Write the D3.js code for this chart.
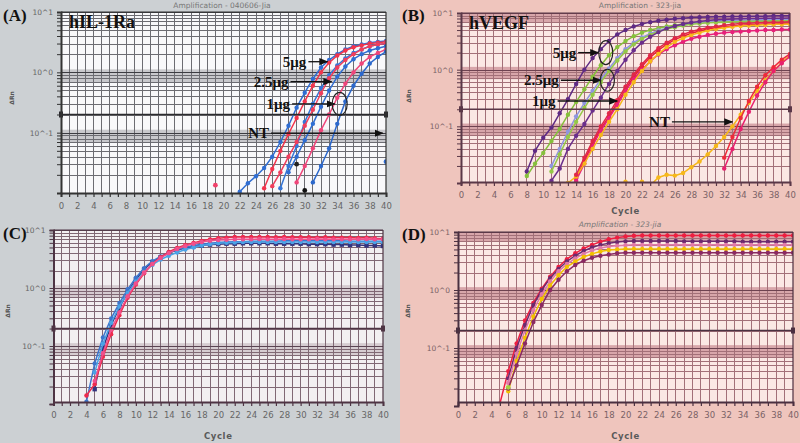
<!DOCTYPE html>
<html><head><meta charset="utf-8">
<script src="https://cdn.jsdelivr.net/npm/d3@7"></script>
<style>body{margin:0;background:#fff}svg{display:block}</style>
</head><body><svg id="c" width="800" height="443"></svg>
<script>
// ---------- shared axis data ----------
const cycleTicks = d3.range(0, 41, 1);
const cycleLabels = d3.range(0, 41, 2);
const decadeValues = [10, 1, 0.1];
const decadeLabels = ["10^1", "10^0", "10^-1"];
const thresholdValue = 0.2;

// ---------- Panel A : hIL-1Ra ----------
const aStarts = [22, 25, 27, 26, 28, 29, 31];
const aBlue1 = [0.0105,0.0145,0.019,0.026,0.04,0.07,0.13,0.26,0.46,0.78,1.2,1.6,2.0,2.4,2.7,2.9,3.1,3.2,3.3];
const aRed1  = [0.012,0.025,0.05,0.095,0.175,0.33,0.6,1.0,1.45,1.9,2.3,2.6,2.8,3.0,3.1,3.2];
const aBlue2 = [0.012,0.028,0.06,0.15,0.3,0.55,0.9,1.3,1.7,2.1,2.4,2.7,2.9,3.0];
const aRed2  = [0.013,0.022,0.04,0.07,0.13,0.24,0.45,0.8,1.2,1.6,2.0,2.4,2.7,2.9,3.0];
const aBlue3 = [0.022,0.04,0.075,0.14,0.27,0.5,0.85,1.25,1.65,2.0,2.3,2.5,2.7];
const aPink3 = [0.015,0.028,0.055,0.11,0.2,0.38,0.65,1.0,1.4,1.8,2.1,2.4];
const aBlue4 = [0.015,0.028,0.055,0.14,0.33,0.6,0.95,1.4,1.8,2.2];
const aExtraCycles = [19, 30, 29, 40];
const aExtraValues = [0.0135, 0.011, 0.03, 0.033];

// ---------- Panel B : hVEGF ----------
const bStarts = [8, 8, 11, 11, 11, 14, 14, 13, 14, 20, 32, 32];
const bPurple1 = [0.016,0.037,0.063,0.095,0.17,0.3,0.56,1.0,1.6,2.3,3.2,4.2,5.0,5.8,6.4,6.9,7.3,7.6,7.9,8.1,8.3,8.4,8.5,8.6,8.6,8.7,8.7,8.8,8.8,8.8,8.9,8.9,8.9];
const bGreen1  = [0.0133,0.022,0.034,0.055,0.09,0.16,0.27,0.45,0.75,1.2,1.8,2.5,3.2,3.9,4.5,5.0,5.4,5.8,6.1,6.4,6.6,6.8,6.9,7.0,7.1,7.1,7.2,7.2,7.2,7.3,7.3,7.3,7.3];
const bLavender = [0.02,0.04,0.08,0.15,0.26,0.42,0.68,1.05,1.6,2.3,3.0,3.7,4.3,4.9,5.4,5.8,6.2,6.5,6.8,7.0,7.2,7.3,7.4,7.5,7.5,7.6,7.6,7.7,7.7,7.7];
const bGreen2  = [0.016,0.032,0.065,0.12,0.21,0.36,0.6,0.95,1.45,2.1,2.8,3.5,4.1,4.7,5.2,5.6,6.0,6.3,6.5,6.7,6.8,6.9,7.0,7.0,7.1,7.1,7.1,7.2,7.2,7.2];
const bPurple2 = [0.011,0.018,0.04,0.068,0.11,0.19,0.32,0.56,0.95,1.5,2.2,3.0,3.8,4.6,5.3,5.9,6.4,6.8,7.1,7.4,7.6,7.7,7.8,7.9,8.0,8.0,8.1,8.1,8.1,8.2];
const bRed     = [0.012,0.025,0.05,0.09,0.15,0.26,0.45,0.75,1.15,1.65,2.2,2.8,3.4,3.9,4.4,4.8,5.2,5.5,5.7,5.9,6.1,6.2,6.3,6.4,6.4,6.5,6.5];
const bPink    = [0.011,0.022,0.045,0.085,0.14,0.24,0.42,0.68,1.0,1.4,1.85,2.3,2.7,3.1,3.5,3.8,4.1,4.3,4.5,4.6,4.7,4.8,4.9,5.0,5.0,5.1,5.1];
const bYellow  = [0.010,0.013,0.022,0.04,0.07,0.12,0.2,0.36,0.6,0.95,1.4,1.9,2.5,3.1,3.6,4.1,4.5,4.9,5.2,5.5,5.7,5.9,6.0,6.1,6.2,6.3,6.3,6.4];
const bRed2    = [0.014,0.028,0.055,0.1,0.17,0.29,0.5,0.82,1.25,1.8,2.4,3.0,3.6,4.2,4.7,5.1,5.5,5.8,6.1,6.3,6.5,6.6,6.7,6.8,6.9,6.9,7.0];
const bYellowNT = [0.0105,0.009,0.0105,0.009,0.0125,0.014,0.0135,0.015,0.019,0.024,0.032,0.045,0.065,0.1,0.16,0.26,0.42,0.65,0.95,1.35,1.8];
const bRedNT   = [0.028,0.065,0.14,0.28,0.5,0.8,1.1,1.5,1.9];
const bPinkNT  = [0.018,0.04,0.09,0.18,0.35,0.6,0.95,1.3,1.7];

// ---------- Panel C ----------
const cStarts = [5, 4, 5, 4, 5];
const cNavy  = [0.018,0.09,0.23,0.46,0.85,1.4,2.1,2.8,3.4,4.0,4.5,4.9,5.2,5.4,5.6,5.7,5.8,5.8,5.9,5.9,5.9,5.9,5.8,5.8,5.8,5.8,5.7,5.7,5.7,5.6,5.6,5.5,5.5,5.4,5.4,5.3];
const cBlue  = [0.011,0.05,0.14,0.3,0.55,0.95,1.5,2.2,2.9,3.5,4.1,4.6,5.0,5.4,5.7,5.9,6.1,6.2,6.3,6.3,6.4,6.4,6.4,6.4,6.5,6.5,6.5,6.5,6.5,6.5,6.5,6.5,6.4,6.4,6.4,6.4,6.4];
const cLightBlue = [0.035,0.11,0.25,0.48,0.82,1.3,1.9,2.5,3.1,3.6,4.1,4.6,5.0,5.4,5.7,5.9,6.0,6.1,6.2,6.2,6.2,6.2,6.2,6.2,6.2,6.2,6.2,6.2,6.2,6.2,6.2,6.2,6.2,6.2,6.2,6.2];
const cRed   = [0.014,0.022,0.065,0.16,0.34,0.68,1.15,1.8,2.6,3.4,4.2,4.9,5.5,6.0,6.5,6.9,7.2,7.4,7.6,7.6,7.6,7.6,7.6,7.5,7.6,7.5,7.5,7.5,7.4,7.5,7.4,7.4,7.4,7.3,7.4,7.2,7.1];
const cPink  = [0.025,0.075,0.19,0.38,0.72,1.2,1.85,2.6,3.3,4.0,4.7,5.3,5.8,6.2,6.5,6.7,6.8,6.9,6.9,6.9,7.0,6.9,6.9,7.0,6.9,6.9,6.9,7.0,6.9,6.9,6.9,6.9,6.9,7.0,6.9,6.9];

// ---------- Panel D ----------
const dStarts = [5, 6, 6, 6, 6];
const dRed    = [0.011,0.04,0.12,0.3,0.6,1.05,1.7,2.5,3.4,4.3,5.2,6.0,6.8,7.5,8.0,8.4,8.6,8.7,8.7,8.7,8.7,8.7,8.7,8.7,8.7,8.7,8.7,8.7,8.7,8.7,8.7,8.7,8.7,8.7,8.7,8.7];
const dPurple = [0.03,0.1,0.25,0.55,1.0,1.6,2.3,3.1,3.9,4.7,5.4,6.0,6.4,6.7,6.9,7.0,7.0,7.0,7.0,7.0,7.0,6.9,6.9,6.9,6.9,6.9,6.9,6.9,6.8,6.8,6.8,6.8,6.8,6.8,6.8];
const dPink   = [0.025,0.08,0.2,0.45,0.85,1.4,2.1,2.8,3.5,4.2,4.8,5.3,5.6,5.8,5.9,6.0,6.0,6.0,6.0,6.0,6.0,6.0,6.0,6.0,6.0,6.0,6.0,6.0,6.0,6.0,6.0,6.0,6.0,6.0,6.0];
const dYellow = [0.018,0.06,0.15,0.35,0.7,1.2,1.8,2.5,3.1,3.7,4.2,4.6,4.9,5.0,5.1,5.1,5.1,5.1,5.1,5.1,5.1,5.1,5.1,5.1,5.1,5.1,5.1,5.1,5.1,5.1,5.1,5.1,5.1,5.1,5.1];
const dMaroon = [0.02,0.05,0.12,0.28,0.55,1.0,1.5,2.1,2.7,3.2,3.6,3.9,4.1,4.3,4.4,4.4,4.4,4.4,4.4,4.4,4.4,4.4,4.4,4.4,4.4,4.4,4.4,4.4,4.4,4.4,4.4,4.4,4.4,4.4,4.4];
const dExtraCycles = [6];
const dExtraValues = [0.021];

// ---------- drawing ----------
const svg = d3.select("#c");
const defs = svg.append("defs");

function toPoints(start, vals) { return vals.map((v, i) => ({ c: start + i, v })); }

function panel(cfg) {
  const g = svg.append("g");
  g.append("rect").attr("x", cfg.bx).attr("y", cfg.by).attr("width", cfg.bw).attr("height", cfg.bh).attr("fill", cfg.bg);
  const x = d3.scaleLinear().domain([0, 40]).range([cfg.xl, cfg.xr]);
  const y = d3.scaleLog().domain([0.01, 10]).range([cfg.yb, cfg.yt]);
  const pt = cfg.yt, pb = cfg.axisY;
  const clipId = "clip" + cfg.id;
  defs.append("clipPath").attr("id", clipId).append("rect")
    .attr("x", cfg.xl).attr("y", pt - 1).attr("width", cfg.xr - cfg.xl).attr("height", pb - pt + 1);

  // title
  if (cfg.title) {
    g.append("text").attr("x", cfg.titleX).attr("y", cfg.titleY).attr("text-anchor", "middle")
      .attr("font-family", "DejaVu Sans").attr("font-size", 7.5).attr("fill", "#777").attr("font-style", cfg.titleItalic ? "italic" : "normal")
      .text(cfg.title);
  }

  g.append("rect").attr("x", cfg.xl).attr("y", pt).attr("width", cfg.xr - cfg.xl).attr("height", pb - pt).attr("fill", cfg.plotFill);

  const inner = g.append("g").attr("clip-path", `url(#${clipId})`);
  // decade bands
  decadeValues.forEach(d => {
    const y1 = Math.max(pt, y(d * 1.12)), y2 = y(d * 0.68);
    inner.append("rect").attr("x", cfg.xl).attr("y", y1).attr("width", cfg.xr - cfg.xl).attr("height", y2 - y1)
      .attr("fill", cfg.band).attr("opacity", d === 10 ? cfg.topBandOpacity : 1);
  });
  // vertical grid
  inner.selectAll(".vg").data(d3.range(1, 40)).join("line")
    .attr("x1", d => x(d)).attr("x2", d => x(d)).attr("y1", pt).attr("y2", pb)
    .attr("stroke", cfg.grid).attr("stroke-width", 1).attr("shape-rendering", "crispEdges");
  // horizontal log grid
  const minors = [];
  [0.01, 0.1, 1].forEach(b => d3.range(1, 10).forEach(m => minors.push(b * m)));
  minors.push(10);
  inner.selectAll(".hg").data(minors).join("line")
    .attr("x1", cfg.xl).attr("x2", cfg.xr).attr("y1", d => Math.round(y(d)) + 0.5).attr("y2", d => Math.round(y(d)) + 0.5)
    .attr("stroke", d => decadeValues.includes(d) ? cfg.gridDark : cfg.grid).attr("stroke-width", 1);

  // curves
  const line = d3.line().x(d => x(d.c)).y(d => y(d.v));
  cfg.series.forEach(s => {
    const pts = toPoints(s.start, s.values);
    inner.append("path").attr("d", line(pts)).attr("fill", "none").attr("stroke", s.color).attr("stroke-width", 1.5);
    inner.selectAll(null).data(pts).join(s.square ? "rect" : "circle")
      .each(function (d) {
        const el = d3.select(this);
        if (s.square) el.attr("x", x(d.c) - 2.2).attr("y", y(d.v) - 2.2).attr("width", 4.4).attr("height", 4.4);
        else el.attr("cx", x(d.c)).attr("cy", y(d.v)).attr("r", 2.2);
      }).attr("fill", s.color);
  });
  (cfg.extras || []).forEach(e => {
    inner.append("circle").attr("cx", x(e.c)).attr("cy", y(e.v)).attr("r", 2.4).attr("fill", e.color);
  });

  // threshold
  const ty = y(thresholdValue);
  g.append("line").attr("x1", cfg.xl).attr("x2", cfg.xr).attr("y1", ty).attr("y2", ty)
    .attr("stroke", cfg.thr).attr("stroke-width", 1.6);
  [cfg.xl, cfg.xr].forEach(px => g.append("rect").attr("x", px - 2).attr("y", ty - 3).attr("width", 4).attr("height", 6).attr("fill", cfg.thr));

  // axes
  const xAxis = d3.axisBottom(x).tickValues(cycleTicks).tickSize(4).tickPadding(6)
    .tickFormat(d => (cycleLabels.includes(d) ? d : ""));
  const gx = g.append("g").attr("transform", `translate(0,${pb})`).call(xAxis);
  gx.select(".domain").attr("stroke", cfg.axis).attr("stroke-width", 2);
  gx.selectAll(".tick line").attr("stroke", cfg.axis).attr("stroke-width", 1.2);
  gx.selectAll(".tick text").attr("font-family", "DejaVu Sans").attr("font-size", 8.5).attr("fill", cfg.tickText);

  const yAxis = d3.axisLeft(y).tickValues(minors).tickSize(4).tickPadding(4)
    .tickFormat(d => { const i = decadeValues.indexOf(d); return i >= 0 ? decadeLabels[i] : ""; });
  const gy = g.append("g").attr("transform", `translate(${cfg.xl},0)`).call(yAxis);
  gy.select(".domain").attr("stroke", cfg.axis).attr("stroke-width", 2);
  gy.selectAll(".tick line").attr("stroke", cfg.axis).attr("stroke-width", 1);
  gy.selectAll(".tick text").attr("font-family", "DejaVu Sans").attr("font-size", 7.5).attr("fill", cfg.tickText);
  // right & top border
  g.append("line").attr("x1", cfg.xr).attr("x2", cfg.xr).attr("y1", pt).attr("y2", pb).attr("stroke", cfg.axis).attr("stroke-width", 1.2);
  g.append("line").attr("x1", cfg.xl).attr("x2", cfg.xr).attr("y1", pt).attr("y2", pt).attr("stroke", cfg.axis).attr("stroke-width", 1);

  // y label
  g.append("text").attr("transform", `translate(${cfg.ylabX},${cfg.ylabY}) rotate(-90)`).attr("text-anchor", "middle")
    .attr("font-family", "DejaVu Sans").attr("font-weight", "bold").attr("font-size", 6).attr("fill", "#555").text("ΔRn");
  if (cfg.cycleY) {
    g.append("text").attr("x", (cfg.xl + cfg.xr) / 2).attr("y", cfg.cycleY).attr("text-anchor", "middle")
      .attr("font-family", "DejaVu Sans").attr("font-weight", "bold").attr("font-size", 8.5).attr("fill", "#5a5a5a")
      .attr("letter-spacing", 0.6).text("Cycle");
  }
  // panel letter
  g.append("text").attr("x", cfg.letterX).attr("y", cfg.letterY).attr("font-family", "Liberation Serif")
    .attr("font-weight", "bold").attr("font-size", 17).attr("fill", "#111").text(cfg.letter);
  if (cfg.name) {
    g.append("text").attr("x", cfg.xl + 8).attr("y", cfg.yt + 16).attr("font-family", "Liberation Serif")
      .attr("font-weight", "bold").attr("font-size", 18).attr("fill", "#111").text(cfg.name);
  }
  return { g, x, y };
}

const grayCfg = { bg: "#ccd0d3", tickText: "#666" };
const pinkCfg = { bg: "#efc5bd", tickText: "#7a6266" };

const A = panel(Object.assign({}, grayCfg, {
  id: "A", bx: 0, by: 0, bw: 400, bh: 219, xl: 61, xr: 386, yt: 12, yb: 193, axisY: 193,
  plotFill: "#f8f8fa", band: "#c8c8cc", topBandOpacity: 0, grid: "#6c6c72", gridDark: "#3c3c42", thr: "#2a2a2e", axis: "#333",
  title: "Amplification - 040606-Jia", titleX: 222, titleY: 8, letter: "(A)", letterX: 3, letterY: 21, name: "hIL-1Ra",
  ylabX: 14, ylabY: 98,
  series: [
    { start: aStarts[0], values: aBlue1, color: "#2f6dd2" },
    { start: aStarts[1], values: aRed1, color: "#f2344c" },
    { start: aStarts[2], values: aBlue2, color: "#3676d6" },
    { start: aStarts[3], values: aRed2, color: "#f03e5c" },
    { start: aStarts[4], values: aBlue3, color: "#2f6dd2" },
    { start: aStarts[5], values: aPink3, color: "#f0457a" },
    { start: aStarts[6], values: aBlue4, color: "#2c68cc" }
  ],
  extras: [
    { c: aExtraCycles[0], v: aExtraValues[0], color: "#f0406a" },
    { c: aExtraCycles[1], v: aExtraValues[1], color: "#111" },
    { c: aExtraCycles[2], v: aExtraValues[2], color: "#222" },
    { c: aExtraCycles[3], v: aExtraValues[3], color: "#2f6dd2" }
  ]
}));

const B = panel(Object.assign({}, pinkCfg, {
  id: "B", bx: 400, by: 0, bw: 400, bh: 219, xl: 461, xr: 790, yt: 13, yb: 183, axisY: 182,
  plotFill: "#fbe8e4", band: "#d8a6aa", topBandOpacity: 1, grid: "#a37078", gridDark: "#6e4250", thr: "#5a3848", axis: "#5a3848",
  title: "Amplification - 323-jia", titleX: 640, titleY: 8, letter: "(B)", letterX: 402, letterY: 21, name: "hVEGF",
  ylabX: 411, ylabY: 96, cycleY: 214,
  series: [
    { start: bStarts[0], values: bPurple1, color: "#5e2a84" },
    { start: bStarts[1], values: bGreen1, color: "#86c03c" },
    { start: bStarts[2], values: bLavender, color: "#8f96e0" },
    { start: bStarts[3], values: bGreen2, color: "#94c848" },
    { start: bStarts[4], values: bPurple2, color: "#6a2e8c" },
    { start: bStarts[5], values: bRed, color: "#ec2030" },
    { start: bStarts[6], values: bPink, color: "#e8207a" },
    { start: bStarts[7], values: bYellow, color: "#f6b81a" },
    { start: bStarts[8], values: bRed2, color: "#e02848" },
    { start: bStarts[9], values: bYellowNT, color: "#f6b81a" },
    { start: bStarts[10], values: bRedNT, color: "#ee2a3a" },
    { start: bStarts[11], values: bPinkNT, color: "#e8206e" }
  ]
}));

const C = panel(Object.assign({}, grayCfg, {
  id: "C", bx: 0, by: 219, bw: 400, bh: 224, xl: 53.5, xr: 383, yt: 230, yb: 404, axisY: 402,
  plotFill: "#f2eff1", band: "#d6ccd1", topBandOpacity: 0, grid: "#806874", gridDark: "#5a4452", thr: "#4e3444", axis: "#4e3444",
  title: "", letter: "(C)", letterX: 3, letterY: 239,
  ylabX: 10, ylabY: 311, cycleY: 439,
  series: [
    { start: cStarts[0], values: cNavy, color: "#34347e", square: true },
    { start: cStarts[1], values: cBlue, color: "#3d74cc" },
    { start: cStarts[2], values: cLightBlue, color: "#4aa2e6" },
    { start: cStarts[3], values: cRed, color: "#ee2a4c" },
    { start: cStarts[4], values: cPink, color: "#f0508c" }
  ]
}));

const D = panel(Object.assign({}, pinkCfg, {
  id: "D", bx: 400, by: 219, bw: 400, bh: 224, xl: 458, xr: 793, yt: 232, yb: 406, axisY: 402,
  plotFill: "#fbe8e4", band: "#d8a6aa", topBandOpacity: 1, grid: "#a37078", gridDark: "#6e4250", thr: "#4a3040", axis: "#4a3040",
  title: "Amplification - 323-jia", titleX: 620, titleY: 227, titleItalic: true, letter: "(D)", letterX: 402, letterY: 240,
  ylabX: 410, ylabY: 311, cycleY: 439,
  series: [
    { start: dStarts[0], values: dRed, color: "#ee1f40" },
    { start: dStarts[1], values: dPurple, color: "#6c2a6e" },
    { start: dStarts[2], values: dPink, color: "#e07aa8" },
    { start: dStarts[3], values: dYellow, color: "#f2c000" },
    { start: dStarts[4], values: dMaroon, color: "#8a2a62" }
  ],
  extras: [{ c: dExtraCycles[0], v: dExtraValues[0], color: "#a8d040" }]
}));

// ---------- annotations ----------
defs.append("marker").attr("id", "arr").attr("viewBox", "0 0 10 10").attr("refX", 9).attr("refY", 5)
  .attr("markerWidth", 7).attr("markerHeight", 7).attr("orient", "auto")
  .append("path").attr("d", "M0,1 L10,5 L0,9 Z").attr("fill", "#111");

function annot(p, label, cStart, vText, cTip, vTip, ell) {
  const tx = p.x(cStart), ty = p.y(vText);
  svg.append("text").attr("x", tx).attr("y", ty + 5).attr("text-anchor", "end")
    .attr("font-family", "Liberation Serif").attr("font-weight", "bold").attr("font-size", 15).attr("fill", "#111").text(label);
  svg.append("line").attr("x1", tx + 2).attr("y1", ty).attr("x2", p.x(cTip)).attr("y2", p.y(vTip))
    .attr("stroke", "#111").attr("stroke-width", 1.3).attr("marker-end", "url(#arr)");
  if (ell) {
    svg.append("ellipse").attr("cx", p.x(ell[0])).attr("cy", p.y(ell[1])).attr("rx", ell[2]).attr("ry", ell[3])
      .attr("fill", "none").attr("stroke", "#222").attr("stroke-width", 1.2);
  }
}
// A
annot(A, "5μg", 30.2, 1.5, 32.8, 1.5);
annot(A, "2.5μg", 28.0, 0.7, 33.3, 0.7);
annot(A, "1μg", 28.2, 0.3, 33.7, 0.3, [34.3, 0.3, 7.5, 11.5]);
annot(A, "NT", 25.6, 0.098, 39.6, 0.098);
// B
annot(B, "5μg", 14.0, 2.0, 16.7, 2.0, [17.6, 2.0, 7, 12]);
annot(B, "2.5μg", 11.9, 0.65, 17.0, 0.65, [17.8, 0.65, 7, 11]);
annot(B, "1μg", 11.5, 0.28, 19.0, 0.28);
annot(B, "NT", 25.4, 0.12, 33.0, 0.12);
</script>
</body></html>
